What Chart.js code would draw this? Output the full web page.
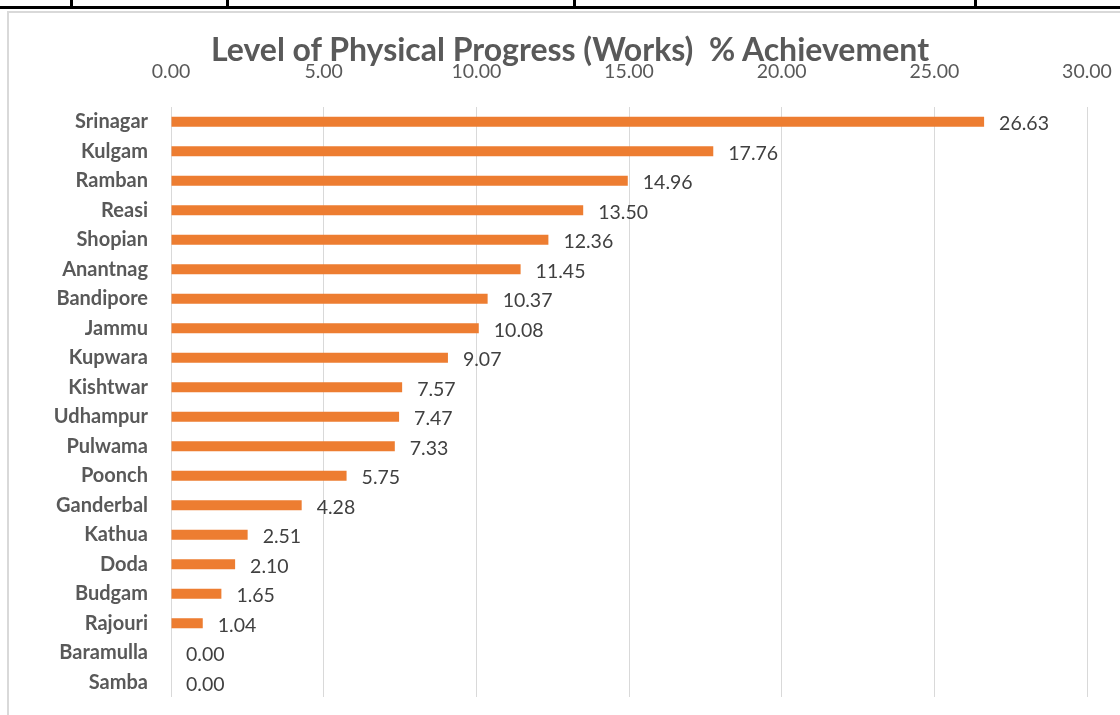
<!DOCTYPE html>
<html>
<head>
<meta charset="utf-8">
<script src="https://cdn.jsdelivr.net/npm/chart.js@4.4.1/dist/chart.umd.min.js"></script>
<style>
    html, body { margin: 0; padding: 0; background: #fff; width: 1120px; height: 715px; overflow: hidden; }
    .rule-h { position: absolute; left: 0; top: 6px; width: 1120px; height: 3px; background: #000; }
    .rule-v { position: absolute; top: 0; width: 3px; height: 8px; background: #000; }
    .frame { position: absolute; left: 7px; top: 11px; width: 1130px; height: 720px; border: 2px solid #d9d9d9; box-sizing: border-box; }
    #chart { position: absolute; left: 0; top: 0; }
    .title {
        position: absolute; left: 0; width: 1140px; top: 29px; text-align: center;
        font-family: Lato, sans-serif; font-weight: bold; font-size: 32px; color: #595959;
        white-space: pre; line-height: 40px;
    }
</style>
</head>
<body>
<div class="rule-h"></div>
<div class="rule-v" style="left:70px"></div>
<div class="rule-v" style="left:226px"></div>
<div class="rule-v" style="left:573px"></div>
<div class="rule-v" style="left:974px"></div>
<div class="frame"></div>
<canvas id="chart" width="1120" height="715"></canvas>
<div class="title">Level of Physical Progress (Works)  % Achievement</div>

<script>
// Data
const districts = ['Srinagar', 'Kulgam', 'Ramban', 'Reasi', 'Shopian', 'Anantnag', 'Bandipore', 'Jammu', 'Kupwara', 'Kishtwar',
    'Udhampur', 'Pulwama', 'Poonch', 'Ganderbal', 'Kathua', 'Doda', 'Budgam', 'Rajouri', 'Baramulla', 'Samba'];
const achievement = [26.63, 17.76, 14.96, 13.50, 12.36, 11.45, 10.37, 10.08, 9.07, 7.57,
    7.47, 7.33, 5.75, 4.28, 2.51, 2.10, 1.65, 1.04, 0.00, 0.00];
const axisMin = 0;
const axisMax = 30;
const axisStep = 5;

// Value labels at the end of each bar
const valueLabels = {
    id: 'valueLabels',
    afterDatasetsDraw(chart) {
        const ctx = chart.ctx;
        const meta = chart.getDatasetMeta(0);
        ctx.save();
        ctx.font = '19.5px Lato, sans-serif';
        ctx.fillStyle = '#404040';
        ctx.textAlign = 'left';
        ctx.textBaseline = 'middle';
        meta.data.forEach((bar, i) => {
            ctx.fillText(achievement[i].toFixed(2), bar.x + 15, bar.y + 2);
        });
        ctx.restore();
    }
};

const ctx = document.getElementById('chart').getContext('2d');
new Chart(ctx, {
    type: 'bar',
    data: {
        labels: districts,
        datasets: [{
            data: achievement,
            backgroundColor: '#ed7d31',
            borderWidth: 0,
            barPercentage: 0.34,
            categoryPercentage: 1
        }]
    },
    options: {
        indexAxis: 'y',
        responsive: false,
        animation: false,
        layout: {
            padding: { top: 0, right: 33, bottom: 18, left: 0 }
        },
        plugins: {
            legend: { display: false },
            tooltip: { enabled: false }
        },
        scales: {
            x: {
                position: 'top',
                min: axisMin,
                max: axisMax,
                afterFit: (scale) => {
                    scale.height = 107;
                    scale.paddingLeft = 0;
                    scale.paddingRight = 0;
                },
                grid: {
                    color: '#d9d9d9',
                    lineWidth: 1,
                    drawTicks: false
                },
                border: { display: false },
                ticks: {
                    stepSize: axisStep,
                    padding: 24,
                    color: '#595959',
                    font: { family: 'Lato', size: 19.5 },
                    callback: (v) => Number(v).toFixed(2)
                }
            },
            y: {
                afterFit: (scale) => {
                    scale.width = 171;
                    scale.paddingTop = 0;
                    scale.paddingBottom = 0;
                },
                grid: { display: false, drawTicks: false },
                border: { display: false },
                ticks: {
                    padding: 23,
                    color: '#595959',
                    font: { family: 'Lato', size: 20, weight: 'bold' }
                }
            }
        }
    },
    plugins: [valueLabels]
});
</script>
</body>
</html>
